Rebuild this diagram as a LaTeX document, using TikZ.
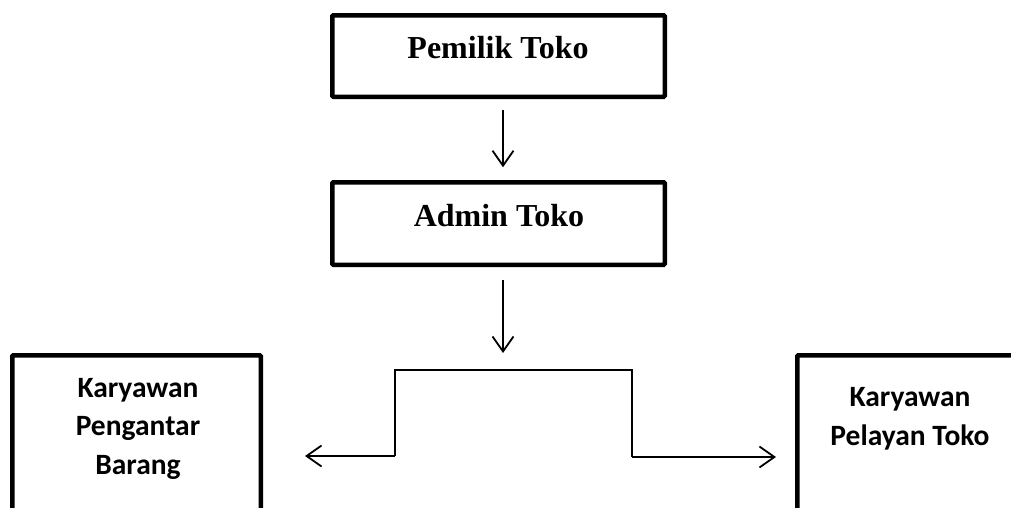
\documentclass[tikz,border=0pt]{standalone}
\usepackage{fontspec}
\setmainfont{Liberation Serif}
\newfontfamily\cali{Carlito}
\usetikzlibrary{arrows.meta}

\tikzset{
  box/.style={draw=black, line width=4.5pt, rounded corners=1pt, fill=white,
    inner sep=0pt, outer sep=0pt},
  toptext/.style={font=\fontsize{32}{38}\selectfont\bfseries, inner sep=0pt, anchor=base},
  staff/.style={font=\cali\fontsize{29.5}{38.5}\selectfont\bfseries, inner sep=0pt,
    align=center},
  arr/.style={draw=black, line width=1.8pt,
    -{Straight Barb[length=15pt, width=21pt, line width=1.8pt]}},
  link/.style={draw=black, line width=1.8pt}
}

\begin{document}
\begin{tikzpicture}[x=1pt, y=-1pt]
  \useasboundingbox (0,0) rectangle (1011,507);
  \fill[white] (0,0) rectangle (1011,507);
  \clip (0,0) rectangle (1011,507);

  % hierarchy boxes
  \node[box, minimum width=332.5pt, minimum height=81.5pt] (pemilik) at (498.5,56) {};
  \node[toptext] (pemilikLbl) at (498,58) {Pemilik Toko};

  \node[box, minimum width=332.5pt, minimum height=82.5pt] (admin) at (498.5,223.5) {};
  \node[toptext] (adminLbl) at (499,226) {Admin Toko};

  % staff boxes (run past the page edge); labels sit on their last baseline
  \node[box, minimum width=248.5pt, minimum height=220pt, anchor=north west] (kurir) at (12.25,355.25) {};
  \node[staff, anchor=base] (kurirLbl) at (138,474) {Karyawan\\Pengantar\\Barang};

  \node[box, minimum width=248.5pt, minimum height=220pt, anchor=north west] (pelayan) at (797.25,355.25) {};
  \node[staff, anchor=base] (pelayanLbl) at (910,445) {Karyawan\\Pelayan Toko};

  % junction points of the branch line
  \coordinate (split) at (503,370);
  \coordinate (leftTop) at (395,370);
  \coordinate (leftLow) at (395,456);
  \coordinate (rightTop) at (632,370);
  \coordinate (rightLow) at (632,457);
  \coordinate (leftTip) at (305,456);
  \coordinate (rightTip) at (776,457);

  % connectors (run a little right of the box centres)
  \draw[arr, shorten <=13pt, shorten >=15pt] ([xshift=4.5pt]pemilik.south) -- ([xshift=4.5pt]admin.north);
  \draw[arr, shorten <=15pt, shorten >=17pt] ([xshift=4.5pt]admin.south) -- (split);
  \draw[link] (split) -- (leftTop) -- (leftLow);
  \draw[arr] (leftLow) -- (leftTip);
  \draw[link] (split) -- (rightTop) -- (rightLow);
  \draw[arr] (rightLow) -- (rightTip);
\end{tikzpicture}
\end{document}
